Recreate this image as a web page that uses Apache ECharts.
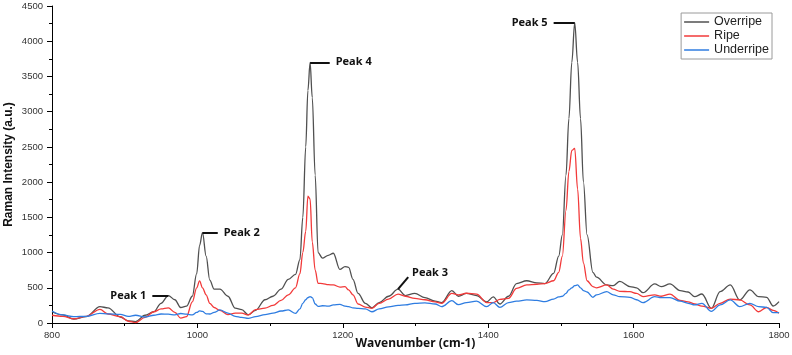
<!DOCTYPE html>
<html lang="en">
<head>
    <meta charset="UTF-8">
    <title>Raman Spectra</title>
    <script src="https://cdn.jsdelivr.net/npm/echarts@6/dist/echarts.min.js"></script>
</head>
<style>
    body { margin: 0; background: #fff; }
    #Chart1 { width: 792px; height: 355px; }
</style>
<body>
    <div id="Chart1"></div>
</body>
<script>

// wavenumber grid (cm-1)
var wavenumbers = [
    800, 815, 830, 847, 866, 877, 894, 905, 915, 928,
    940, 950, 960, 969, 977, 985, 993, 999, 1003, 1007,
    1012, 1017, 1023, 1031, 1042, 1052, 1061, 1070, 1080, 1093,
    1104, 1115, 1125, 1135, 1141, 1145, 1149, 1152, 1155, 1158,
    1162, 1166, 1172, 1180, 1187, 1196, 1203, 1208, 1214, 1221,
    1231, 1240, 1250, 1263, 1276, 1286, 1299, 1313, 1327, 1336,
    1350, 1359, 1370, 1384, 1398, 1407, 1416, 1428, 1439, 1453,
    1467, 1478, 1490, 1497, 1502, 1507, 1511, 1515, 1519, 1523,
    1527, 1531, 1536, 1544, 1549, 1563, 1572, 1581, 1595, 1604,
    1613, 1629, 1638, 1650, 1664, 1675, 1684, 1694, 1707, 1719,
    1733, 1746, 1760, 1772, 1783, 1792, 1800
];

var overripe = [
    160, 114, 55, 90, 232, 215, 85, 30, 20, 110,
    160, 280, 390, 330, 220, 240, 380, 700, 1100, 1282,
    950, 610, 480, 480, 380, 210, 190, 115, 180, 330,
    380, 480, 620, 690, 900, 1500, 2500, 3300, 3700, 3200,
    2100, 1000, 920, 960, 990, 760, 800, 790, 620, 420,
    280, 215, 290, 380, 480, 390, 420, 360, 310, 290,
    460, 380, 420, 390, 300, 370, 270, 380, 560, 600,
    570, 560, 705, 950, 1250, 2100, 2900, 3700, 4265, 3700,
    2900, 2000, 1250, 720, 650, 540, 530, 590, 516, 500,
    430, 554, 516, 554, 460, 440, 374, 412, 208, 445,
    540, 327, 469, 374, 365, 241, 303
];

var ripe = [
    110, 95, 60, 95, 194, 128, 90, 25, 5, 80,
    160, 200, 215, 150, 70, 90, 300, 500, 597, 500,
    400, 280, 220, 180, 120, 140, 140, 114, 190, 210,
    250, 320, 400, 500, 700, 1000, 1300, 1800, 1760, 1150,
    750, 563, 560, 545, 540, 510, 516, 470, 400, 270,
    225, 208, 280, 340, 410, 380, 350, 330, 300, 280,
    420, 398, 422, 410, 290, 290, 336, 350, 492, 540,
    550, 560, 600, 720, 950, 1600, 2150, 2450, 2480, 1900,
    1200, 850, 600, 516, 500, 540, 480, 450, 445, 420,
    374, 400, 380, 410, 320, 300, 270, 240, 208, 280,
    340, 327, 256, 160, 220, 180, 140
];

var underripe = [
    170, 114, 90, 95, 137, 130, 122, 95, 110, 85,
    110, 128, 125, 114, 135, 125, 114, 150, 172, 165,
    130, 128, 150, 185, 140, 95, 80, 66, 90, 120,
    140, 170, 185, 137, 200, 280, 330, 360, 374, 360,
    270, 235, 245, 240, 256, 265, 240, 232, 215, 208,
    200, 160, 200, 230, 250, 256, 280, 285, 270, 232,
    317, 260, 290, 310, 232, 289, 222, 290, 310, 327,
    320, 303, 340, 370, 380, 420, 470, 500, 530, 540,
    500, 460, 440, 365, 400, 445, 400, 374, 365, 330,
    289, 374, 360, 360, 310, 280, 256, 280, 165, 256,
    327, 232, 280, 232, 222, 146, 146
];

// labelled peaks (on the overripe curve)
var peakNames = ['Peak 1', 'Peak 2', 'Peak 3', 'Peak 4', 'Peak 5'];
var peakWavenumbers = [960, 1007, 1276, 1155, 1519];
// leader line offsets in data units [d wavenumber, d intensity]
var leaderOffsets = [[-22, 0], [21, 0], [14, 170], [27, 0], [-29, 0]];

function zip(xs, ys) {
    var out = [];
    for (var i = 0; i < xs.length; i++) {
        out.push([xs[i], ys[i]]);
    }
    return out;
}

var peakLines = [];
for (var p = 0; p < peakNames.length; p++) {
    var idx = wavenumbers.indexOf(peakWavenumbers[p]);
    var px = wavenumbers[idx], py = overripe[idx];
    var off = leaderOffsets[p];
    var align = off[0] < 0 ? 'right' : 'left';
    peakLines.push([
        { coord: [px, py], name: peakNames[p] },
        { coord: [px + off[0], py + off[1]], label: { align: align } }
    ]);
}

var tickFont = {
    fontFamily: 'Liberation Sans',
    fontSize: 9.5,
    color: '#333',
    formatter: function (v) { return String(v); }
};

var myChart1 = echarts.init(document.getElementById('Chart1'));

var option = {
    animation: false,
    backgroundColor: '#fff',
    grid: {
        left: 52,
        right: 13,
        top: 6,
        bottom: 32,
        containLabel: false,
        outerBoundsMode: 'none'
    },
    legend: {
        orient: 'vertical',
        right: 20,
        top: 13,
        padding: [2, 3, 2, 3],
        itemGap: 0,
        itemWidth: 25,
        itemHeight: 1.5,
        icon: 'rect',
        borderColor: '#9a9a9a',
        borderWidth: 1,
        borderRadius: 0,
        backgroundColor: '#fff',
        textStyle: {
            fontFamily: 'Liberation Sans',
            fontSize: 12.5,
            color: '#222',
            lineHeight: 14
        },
        data: ['Overripe', 'Ripe', 'Underripe']
    },
    xAxis: {
        type: 'value',
        min: 800,
        max: 1800,
        interval: 200,
        name: 'Wavenumber (cm-1)',
        nameLocation: 'middle',
        nameGap: 15,
        nameMoveOverlap: false,
        nameTextStyle: {
            fontFamily: 'Noto Sans',
            fontWeight: 'bold',
            fontSize: 12,
            color: '#111'
        },
        axisLine: { show: true, lineStyle: { color: '#000', width: 1 } },
        axisTick: { show: true, length: 5, lineStyle: { color: '#000' } },
        minorTick: { show: true, splitNumber: 2, length: 3, lineStyle: { color: '#000' } },
        splitLine: { show: false },
        axisLabel: Object.assign({ margin: 7 }, tickFont)
    },
    yAxis: {
        type: 'value',
        min: 0,
        max: 4500,
        interval: 500,
        name: 'Raman Intensity (a.u.)',
        nameLocation: 'middle',
        nameGap: 37,
        nameMoveOverlap: false,
        nameTextStyle: {
            fontFamily: 'Liberation Sans',
            fontWeight: 'bold',
            fontSize: 12,
            color: '#111'
        },
        axisLine: { show: true, lineStyle: { color: '#000', width: 1 } },
        axisTick: { show: true, length: 5, lineStyle: { color: '#000' } },
        minorTick: { show: true, splitNumber: 2, length: 3, lineStyle: { color: '#000' } },
        splitLine: { show: false },
        axisLabel: Object.assign({ margin: 9 }, tickFont)
    },
    series: [
        {
            name: 'Overripe',
            type: 'line',
            data: zip(wavenumbers, overripe),
            symbol: 'none',
            smooth: 0.35,
            smoothMonotone: 'x',
            lineStyle: { color: '#505050', width: 1.3 },
            itemStyle: { color: '#505050' },
            markLine: {
                silent: true,
                symbol: ['none', 'none'],
                lineStyle: { color: '#111', width: 2, type: 'solid' },
                label: {
                    show: true,
                    position: 'end',
                    distance: 6,
                    formatter: function (params) { return params.name; },
                    fontFamily: 'Noto Sans',
                    fontWeight: 'bold',
                    fontSize: 11,
                    color: '#111'
                },
                emphasis: { disabled: true },
                data: peakLines
            }
        },
        {
            name: 'Ripe',
            type: 'line',
            data: zip(wavenumbers, ripe),
            symbol: 'none',
            smooth: 0.35,
            smoothMonotone: 'x',
            lineStyle: { color: '#f23a3a', width: 1.3 },
            itemStyle: { color: '#f23a3a' }
        },
        {
            name: 'Underripe',
            type: 'line',
            data: zip(wavenumbers, underripe),
            symbol: 'none',
            smooth: 0.35,
            smoothMonotone: 'x',
            lineStyle: { color: '#2f7de1', width: 1.3 },
            itemStyle: { color: '#2f7de1' }
        }
    ]
};

myChart1.setOption(option, true);

</script>
</html>
